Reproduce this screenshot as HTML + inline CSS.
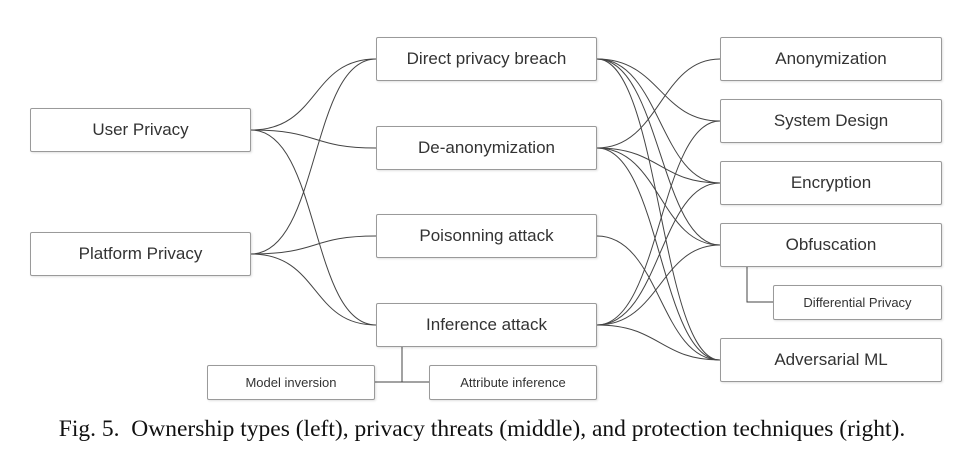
<!DOCTYPE html>
<html><head><style>
body{margin:0;background:#fff;width:964px;height:459px;overflow:hidden;position:relative;font-family:"Liberation Sans",sans-serif}
.b{position:absolute;box-sizing:border-box;border:1px solid #9a9a9a;border-radius:2px;background:#fff;display:flex;align-items:center;justify-content:center;color:#333;font-size:17px;box-shadow:1px 1px 2px rgba(0,0,0,.12)}
.s{font-size:13px}
.cap{position:absolute;left:0;width:964px;top:416px;text-align:center;font-family:"Liberation Serif",serif;font-size:23.5px;color:#111;white-space:nowrap}
svg{position:absolute;left:0;top:0}
</style></head><body>
<svg width="964" height="459" fill="none" stroke="#444" stroke-width="1">
<path d="M251 130 C320 130,310 59,376 59"/>
<path d="M251 130 C320 130,310 148,376 148"/>
<path d="M251 130 C320 130,310 325,376 325"/>
<path d="M251 254 C320 254,310 59,376 59"/>
<path d="M251 254 C320 254,310 236,376 236"/>
<path d="M251 254 C320 254,310 325,376 325"/>
<path d="M597 59 C660 59,660 121,720 121"/>
<path d="M597 59 C660 59,660 183,720 183"/>
<path d="M597 59 C660 59,660 245,720 245"/>
<path d="M597 59 C660 59,660 360,720 360"/>
<path d="M597 148 C660 148,660 59,720 59"/>
<path d="M597 148 C660 148,660 183,720 183"/>
<path d="M597 148 C660 148,660 245,720 245"/>
<path d="M597 148 C660 148,660 360,720 360"/>
<path d="M597 236 C660 236,660 360,720 360"/>
<path d="M597 325 C660 325,660 121,720 121"/>
<path d="M597 325 C660 325,660 183,720 183"/>
<path d="M597 325 C660 325,660 245,720 245"/>
<path d="M597 325 C660 325,660 360,720 360"/>
<path d="M402 347 V382 M375 382 H429"/>
<path d="M747 267 V302 H773"/>
</svg>
<div class="b" style="left:30px;top:108px;width:221px;height:44px">User Privacy</div>
<div class="b" style="left:30px;top:232px;width:221px;height:44px">Platform Privacy</div>
<div class="b" style="left:376px;top:37px;width:221px;height:44px">Direct privacy breach</div>
<div class="b" style="left:376px;top:126px;width:221px;height:44px">De-anonymization</div>
<div class="b" style="left:376px;top:214px;width:221px;height:44px">Poisonning attack</div>
<div class="b" style="left:376px;top:303px;width:221px;height:44px">Inference attack</div>
<div class="b s" style="left:207px;top:365px;width:168px;height:35px">Model inversion</div>
<div class="b s" style="left:429px;top:365px;width:168px;height:35px">Attribute inference</div>
<div class="b" style="left:720px;top:37px;width:222px;height:44px">Anonymization</div>
<div class="b" style="left:720px;top:99px;width:222px;height:44px">System Design</div>
<div class="b" style="left:720px;top:161px;width:222px;height:44px">Encryption</div>
<div class="b" style="left:720px;top:223px;width:222px;height:44px">Obfuscation</div>
<div class="b s" style="left:773px;top:285px;width:169px;height:35px">Differential Privacy</div>
<div class="b" style="left:720px;top:338px;width:222px;height:44px">Adversarial ML</div>
<div class="cap">Fig. 5.&nbsp; Ownership types (left), privacy threats (middle), and protection techniques (right).</div>
</body></html>
